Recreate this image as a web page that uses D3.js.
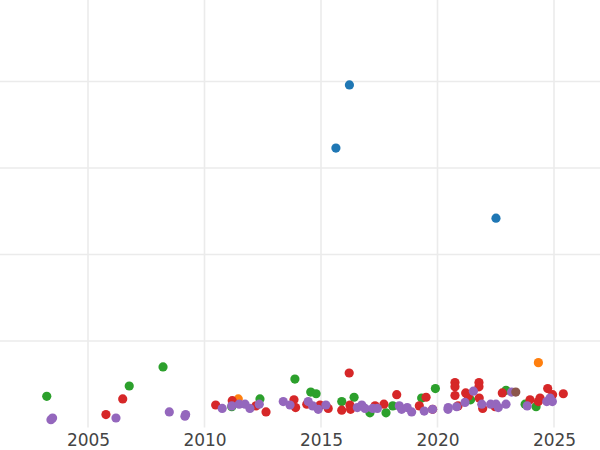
<!DOCTYPE html>
<html>
<head>
<meta charset="utf-8">
<script src="https://cdn.jsdelivr.net/npm/d3@7"></script>
<style>
  html, body { margin: 0; padding: 0; background: #fff; }
  svg { display: block; }
</style>
</head>
<body>
<svg id="chart" width="600" height="450"></svg>
<script>
// ---- data: [year, value] ----
const blueSeries = [[2016.22, 396], [2015.64, 323], [2022.51, 242]];
const orangeSeries = [[2011.45, 33], [2024.33, 75]];
const greenSeries = [
  [2003.23, 36], [2006.77, 48], [2008.22, 70], [2011.17, 24], [2012.38, 33],
  [2013.88, 56], [2014.56, 41], [2014.79, 39], [2015.89, 30], [2016.42, 35],
  [2017.10, 17], [2017.79, 17], [2018.08, 25], [2019.32, 34], [2019.91, 45],
  [2021.42, 32], [2022.94, 43], [2023.76, 27], [2024.23, 24]
];
const redSeries = [
  [2005.77, 15], [2006.49, 33], [2010.48, 26], [2011.19, 31], [2012.21, 25],
  [2012.64, 18], [2013.84, 32], [2013.91, 23], [2014.39, 27], [2014.96, 26],
  [2015.31, 22], [2016.21, 63], [2015.89, 20], [2016.24, 26], [2016.27, 21],
  [2017.32, 25], [2017.70, 27], [2018.25, 38], [2019.22, 25], [2019.51, 35],
  [2019.79, 21], [2020.75, 52], [2020.75, 47], [2020.75, 37], [2020.88, 25],
  [2021.21, 40], [2021.32, 36], [2021.78, 52], [2021.78, 47], [2021.79, 34],
  [2021.94, 22], [2022.47, 24], [2022.78, 40], [2023.97, 32], [2024.33, 30],
  [2024.40, 34], [2024.73, 45], [2024.94, 38], [2025.40, 39]
];
const purpleSeries = [
  [2003.41, 9], [2003.48, 11], [2006.20, 11], [2008.49, 18], [2009.19, 15],
  [2009.16, 13], [2010.76, 22], [2011.17, 25], [2011.49, 27], [2011.74, 27],
  [2011.95, 22], [2012.35, 27], [2013.38, 30], [2013.67, 26], [2014.45, 30],
  [2014.64, 25], [2014.88, 21], [2015.21, 26], [2016.56, 23], [2016.75, 26],
  [2016.89, 22], [2017.22, 22], [2017.42, 22], [2018.36, 25], [2018.46, 21],
  [2018.70, 23], [2018.89, 18], [2019.43, 19], [2019.79, 21], [2020.46, 23],
  [2020.45, 21], [2020.82, 24], [2021.18, 29], [2021.54, 42], [2021.90, 27],
  [2022.28, 27], [2022.51, 27], [2022.61, 23], [2022.94, 27], [2023.18, 41],
  [2023.85, 25], [2024.69, 30], [2024.83, 34], [2024.93, 30]
];
const brownSeries = [[2023.36, 41]];

const seriesList = [
  { name: "blue", color: "#1f77b4", data: blueSeries },
  { name: "orange", color: "#ff7f0e", data: orangeSeries },
  { name: "green", color: "#2ca02c", data: greenSeries },
  { name: "red", color: "#d62728", data: redSeries },
  { name: "purple", color: "#9467bd", data: purpleSeries },
  { name: "brown", color: "#8c564b", data: brownSeries }
];

const xTicks = [2005, 2010, 2015, 2020, 2025];
const yTicks = [100, 200, 300, 400];

// ---- layout ----
const svg = d3.select("#chart");
const plot = { left: 0, right: 600, top: 0, bottom: 427.5 };

const x = d3.scaleLinear()
  .domain([2005 - 88 / 23.3, 2005 + 512 / 23.3])
  .range([plot.left, plot.right]);
const y = d3.scaleLinear()
  .domain([0, 427.5 / 0.865])
  .range([plot.bottom, plot.top]);

const grid = svg.append("g");
grid.selectAll("line.v").data(xTicks).join("line")
  .attr("x1", d => x(d)).attr("x2", d => x(d))
  .attr("y1", plot.top).attr("y2", plot.bottom)
  .attr("stroke", "#ebebeb").attr("stroke-width", 1.6);
grid.selectAll("line.h").data(yTicks).join("line")
  .attr("x1", plot.left).attr("x2", plot.right)
  .attr("y1", d => y(d)).attr("y2", d => y(d))
  .attr("stroke", "#ebebeb").attr("stroke-width", 1.6);

// x axis labels via d3 axis
const xAxis = d3.axisBottom(x).tickValues(xTicks).tickFormat(d3.format("d")).tickSize(0).tickPadding(6);
const ax = svg.append("g").attr("transform", `translate(0,${plot.bottom})`).call(xAxis);
ax.select(".domain").remove();
ax.selectAll("text")
  .attr("font-family", "DejaVu Sans, sans-serif")
  .attr("font-size", 17)
  .attr("fill", "#444");

// points
const pts = svg.append("g");
seriesList.forEach(s => {
  pts.append("g").selectAll("circle").data(s.data).join("circle")
    .attr("cx", d => x(d[0]))
    .attr("cy", d => y(d[1]))
    .attr("r", 4.6)
    .attr("fill", s.color);
});
</script>
</body>
</html>
